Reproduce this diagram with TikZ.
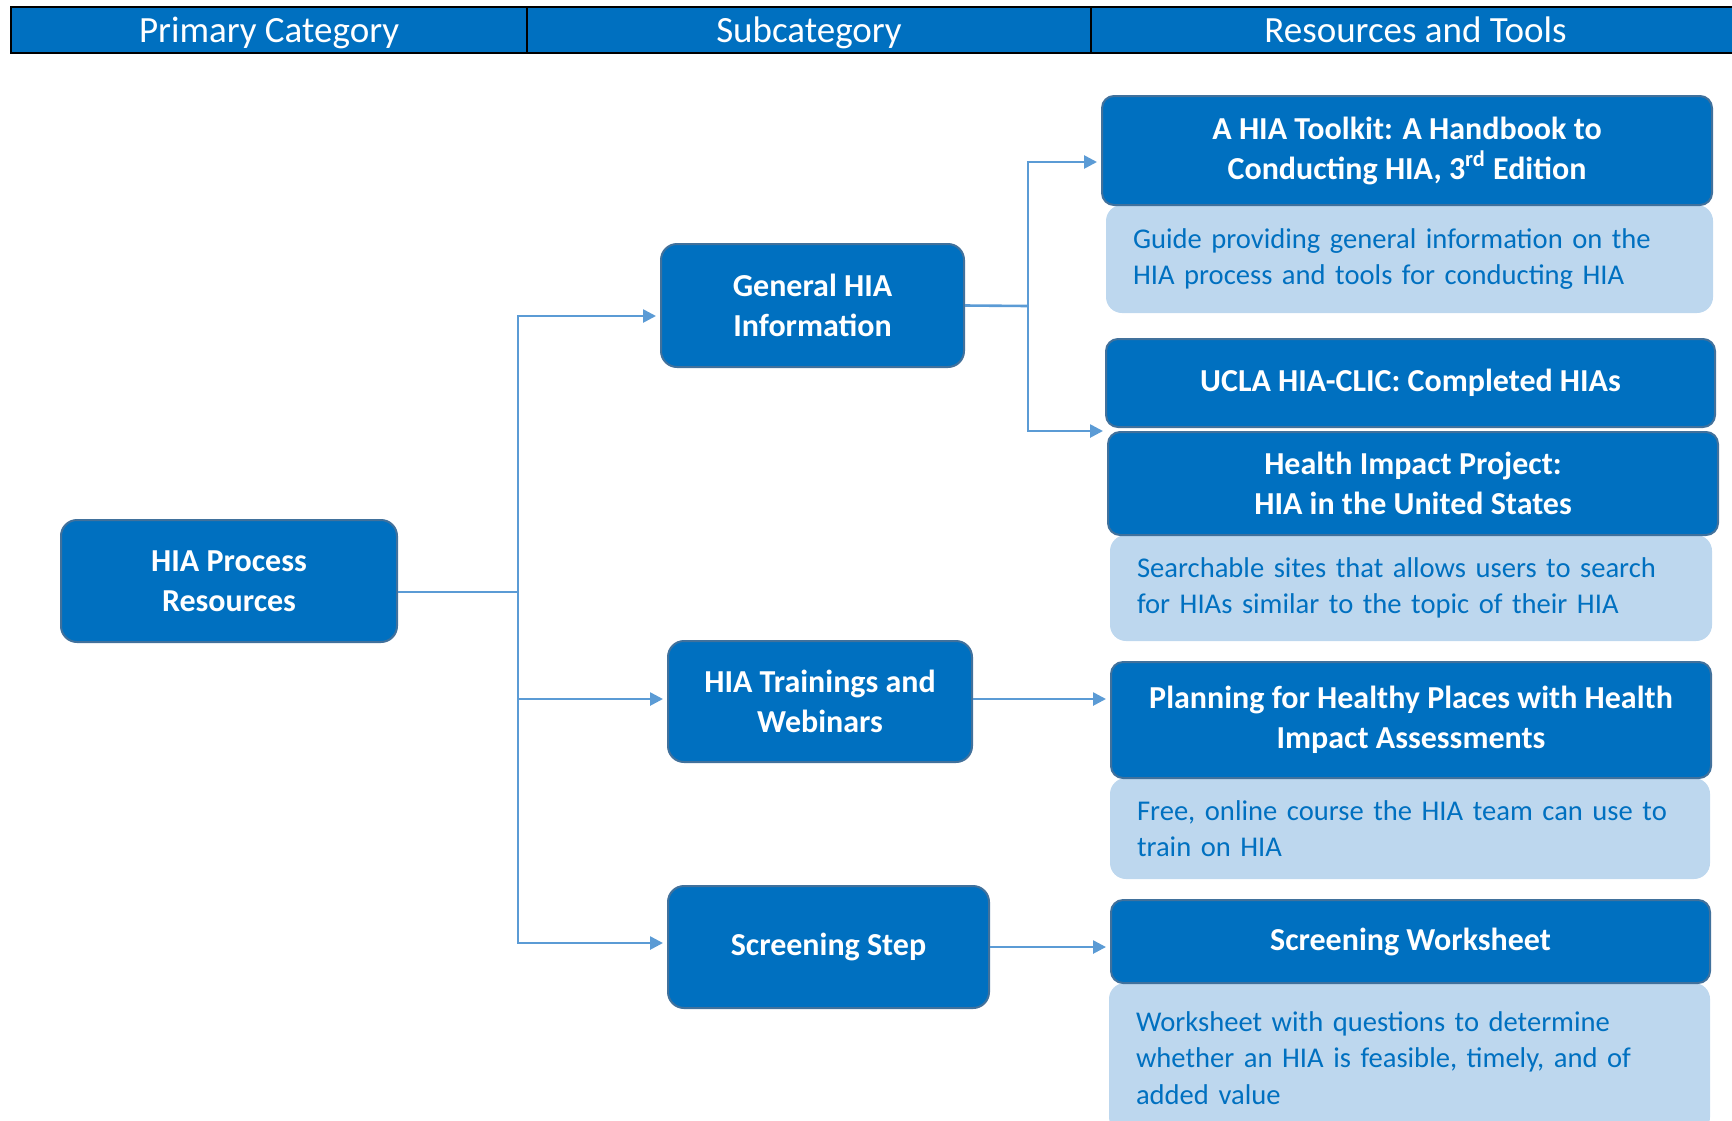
\documentclass[tikz,border=0pt]{standalone}
\usepackage{fontspec}
\setmainfont{Carlito}
\usepackage{tikz}
\usetikzlibrary{arrows.meta}
\definecolor{hiablue}{HTML}{0070C0}
\definecolor{hiaedge}{HTML}{41719C}
\definecolor{hialight}{HTML}{BDD7EE}
\definecolor{hialine}{HTML}{5B9BD5}
\tikzstyle{hdr}=[rectangle, draw=black, line width=1.1pt, fill=hiablue, text=white, inner sep=0pt, minimum height=23pt, text height=14pt, text depth=2pt, font=\fontsize{18.5}{22}\selectfont]
\tikzstyle{main}=[rectangle, rounded corners=8pt, draw=hiaedge, line width=1pt, fill=hiablue, text=white, inner sep=0pt, align=center, font=\bfseries\fontsize{16}{20}\selectfont]
\tikzstyle{tool}=[main, rounded corners=6pt]
\tikzstyle{desc}=[rectangle, rounded corners=8pt, fill=hialight, text=hiablue, inner xsep=13.5pt, inner ysep=0pt, align=left, font=\fontsize{14.3}{18.3}\selectfont]
\tikzstyle{link}=[draw=hialine, line width=1.3pt]
\tikzstyle{edge}=[link, shorten >=2pt, -{Triangle[length=6.5pt, width=6.5pt]}]

\begin{document}
\begin{tikzpicture}[x=0.5pt, y=-0.5pt]
	\clip (0,0) rectangle (1732,1120);
	% header row
	\draw (269,30) node[hdr, minimum width=258pt] (h1) {Primary Category};
	\draw (809,30) node[hdr, minimum width=282pt] (h2) {Subcategory};
	\draw (1415.5,30) node[hdr, minimum width=324.5pt] (h3) {Resources and Tools};
	% descriptions
	\draw (1409.5,259) node[desc, text width=276.5pt, minimum height=54pt] (guide) {Guide providing general information on the\\HIA process and tools for conducting HIA};
	\draw (1411,588) node[desc, text width=274pt, minimum height=53pt] (search) {Searchable sites that allows users to search\\for HIAs similar to the topic of their HIA};
	\draw (1410,828.5) node[desc, text width=273pt, minimum height=50.5pt] (free) {Free, online course the HIA team can use to\\train on HIA};
	\draw (1409.5,1058) node[desc, text width=273.5pt, minimum height=75pt] (wdesc) {Worksheet with questions to determine\\whether an HIA is feasible, timely, and of\\added value};
	% categories
	\draw (229,581) node[main, minimum width=168pt, minimum height=61pt] (proc) {HIA Process\\Resources};
	\draw (812.5,305.5) node[main, minimum width=151.5pt, minimum height=61.5pt] (gen) {General HIA\\Information};
	\draw (820,701.5) node[main, minimum width=152pt, minimum height=60.5pt] (train) {HIA Trainings and\\Webinars};
	\draw (828.5,947) node[main, minimum width=160.5pt, minimum height=61pt] (screen) {Screening Step};
	% tools
	\draw (1407,150.5) node[tool, minimum width=305pt, minimum height=54.5pt] (toolkit) {A HIA Toolkit: A Handbook to\\Conducting HIA, 3\textsuperscript{rd} Edition};
	\draw (1410.5,383) node[tool, minimum width=304.5pt, minimum height=44pt] (ucla) {UCLA HIA-CLIC: Completed HIAs};
	\draw (1413,483.5) node[tool, minimum width=305pt, minimum height=51.5pt] (hip) {Health Impact Project:\\HIA in the United States};
	\draw (1411,720) node[tool, minimum width=300pt, minimum height=58pt] (plan) {Planning for Healthy Places with Health\\Impact Assessments};
	\draw (1410.5,941.5) node[tool, minimum width=299.5pt, minimum height=41.5pt] (sw) {Screening Worksheet};
	% connectors
	\coordinate (j1) at (518,592);
	\coordinate (j2) at (1028,306);
	\draw[link] (proc.east |- j1) -- (j1);
	\draw[edge] (j1) |- ([yshift=-5.25pt]gen.west);
	\draw[edge] (j1) |- ([yshift=1.25pt]train.west);
	\draw[edge] (j1) |- ([yshift=2pt]screen.west);
	\draw[link] (gen.east) -- (j2);
	\draw[edge] (j2) |- ([yshift=-5.75pt]toolkit.west);
	\draw[edge] (j2) |- (hip.north west);
	\draw[edge] ([yshift=1.25pt]train.east) -- ([yshift=1.25pt]train.east -| plan.west);
	\draw[edge] (screen.east) -- (screen.east -| sw.west);
\end{tikzpicture}
\end{document}
